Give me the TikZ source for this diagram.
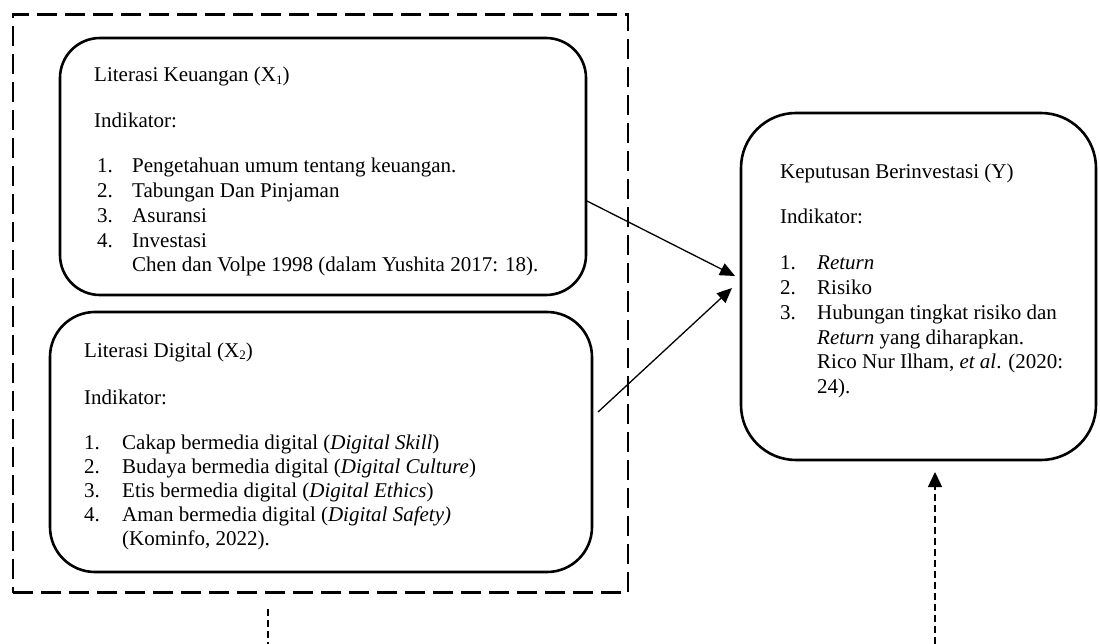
\documentclass[tikz,border=0pt]{standalone}
\usepackage{fontspec}
\setmainfont{Liberation Serif}
\usetikzlibrary{arrows.meta}
\newcommand{\mysub}[1]{\raisebox{-2.5pt}{\fontsize{13}{13}\selectfont #1}}
\begin{document}
\begin{tikzpicture}[x=1pt,y=-1pt,
  varbox/.style={draw, line width=2.6pt, rounded corners=#1, inner sep=0pt},
  outerbox/.style={draw, line width=2.6pt, dash pattern=on 20pt off 8pt},
  txt/.style={anchor=base west, inner sep=0pt, font=\fontsize{21}{25}\selectfont},
  link/.style={line width=1.3pt, -{Triangle[length=15pt,width=13pt]}},
  dlink/.style={line width=1.3pt, dash pattern=on 7pt off 4pt, -{Triangle[length=15pt,width=14pt]}},
  dstub/.style={line width=1.3pt, dash pattern=on 7pt off 4pt}]
\useasboundingbox (0,0) rectangle (1100,644);
% outer dashed frame
\node[outerbox, minimum width=615pt, minimum height=578pt, inner sep=0pt] (frame) at (320.5,303.5) {};
% boxes
\node[varbox=40pt, minimum width=526pt, minimum height=257pt] (x1) at (323,166.5) {};
\node[varbox=45pt, minimum width=542pt, minimum height=260pt] (x2) at (321,442) {};
\node[varbox=55pt, minimum width=355pt, minimum height=347pt] (y) at (918.5,286.5) {};
% X1 text
\node[txt] (x1t) at (94,82) {Literasi Keuangan (X\mysub{1})};
\node[txt] (x1i) at (94,128) {Indikator:};
\node[txt] (x1n1) at (97,173) {1.};
\node[txt] (x1a) at (132,173) {Pengetahuan umum tentang keuangan.};
\node[txt] (x1n2) at (97,197.75) {2.};
\node[txt] (x1b) at (132,197.75) {Tabungan Dan Pinjaman};
\node[txt] (x1n3) at (97,222.5) {3.};
\node[txt] (x1c) at (132,222.5) {Asuransi};
\node[txt] (x1n4) at (97,247.25) {4.};
\node[txt] (x1d) at (132,247.25) {Investasi};
\node[txt] (x1e) at (132,272) {Chen dan Volpe 1998 (dalam Yushita 2017: 18).};
% X2 text
\node[txt] (x2t) at (84,357) {Literasi Digital (X\mysub{2})};
\node[txt] (x2i) at (84,404) {Indikator:};
\node[txt] (x2n1) at (84,449) {1.};
\node[txt] (x2a) at (122,449) {Cakap bermedia digital (\textit{Digital Skill})};
\node[txt] (x2n2) at (84,473) {2.};
\node[txt] (x2b) at (122,473) {Budaya bermedia digital (\textit{Digital Culture})};
\node[txt] (x2n3) at (84,497) {3.};
\node[txt] (x2c) at (122,497) {Etis bermedia digital (\textit{Digital Ethics})};
\node[txt] (x2n4) at (84,521) {4.};
\node[txt] (x2d) at (122,521) {Aman bermedia digital (\textit{Digital Safety)}};
\node[txt] (x2e) at (122,545) {(Kominfo, 2022).};
% Y text
\node[txt] (yt) at (780,179) {Keputusan Berinvestasi (Y)};
\node[txt] (yi) at (780,224) {Indikator:};
\node[txt] (yn1) at (780,270) {1.};
\node[txt] (ya) at (817,270) {\textit{Return}};
\node[txt] (yn2) at (780,294.7) {2.};
\node[txt] (yb) at (817,294.7) {Risiko};
\node[txt] (yn3) at (780,319.4) {3.};
\node[txt] (yc) at (817,319.4) {Hubungan tingkat risiko dan};
\node[txt] (yd) at (817,344.1) {\textit{Return} yang diharapkan.};
\node[txt] (ye) at (817,368.8) {Rico Nur Ilham, \textit{et al}. (2020:};
\node[txt] (yf) at (817,393.5) {24).};
% connectors
\coordinate (a1s) at (587,201);
\coordinate (a1e) at (735,276);
\coordinate (a2s) at (598,412);
\coordinate (a2e) at (732,288);
\coordinate (a3s) at (935,644);
\coordinate (a3e) at (935,472);
\coordinate (s1) at (268,609);
\coordinate (s2) at (268,644);
\draw[link] (a1s) -- (a1e);
\draw[link] (a2s) -- (a2e);
\draw[dlink] (a3s) -- (a3e);
\draw[dstub] (s1) -- (s2);
\end{tikzpicture}
\end{document}
